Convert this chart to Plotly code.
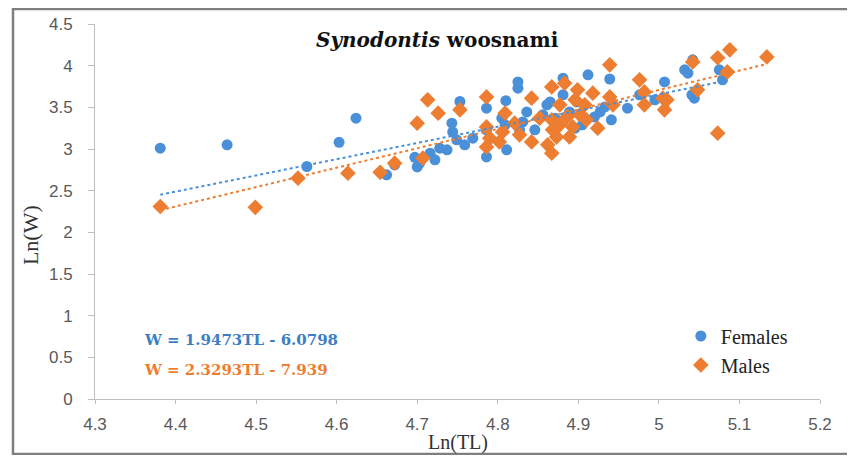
import numpy as np
import plotly.graph_objects as go

# ---- data ----
fem_x = [4.381, 4.464, 4.563, 4.603, 4.624, 4.662, 4.672, 4.697, 4.700, 4.703,
         4.716, 4.737, 4.743, 4.744, 4.749, 4.753, 4.769, 4.786, 4.786, 4.786,
         4.805, 4.809, 4.810, 4.811, 4.825, 4.825, 4.827, 4.831, 4.836, 4.856,
         4.861, 4.865, 4.881, 4.881, 4.898, 4.905, 4.912, 4.920, 4.933, 4.939,
         4.941, 4.961, 4.976, 5.007, 5.036, 5.042, 5.041, 5.044, 5.075, 5.079,
         5.032, 4.871, 4.889, 4.846, 4.927, 4.896, 4.759, 4.728, 4.722, 4.995]
fem_y = [3.01, 3.05, 2.79, 3.08, 3.37, 2.69, 2.81, 2.90, 2.785, 2.83,
         2.95, 2.99, 3.31, 3.205, 3.11, 3.57, 3.13, 3.49, 3.23, 2.905,
         3.37, 3.29, 3.58, 2.99, 3.805, 3.73, 3.23, 3.325, 3.445, 3.41,
         3.53, 3.565, 3.85, 3.65, 3.565, 3.29, 3.89, 3.385, 3.505, 3.84,
         3.35, 3.49, 3.65, 3.805, 3.91, 4.07, 3.65, 3.61, 3.95, 3.83,
         3.95, 3.37, 3.445, 3.23, 3.445, 3.25, 3.05, 3.01, 2.87, 3.59]

male_x = [4.381, 4.499, 4.552, 4.614, 4.654, 4.672, 4.700, 4.707, 4.713, 4.726,
          4.753, 4.786, 4.786, 4.790, 4.786, 4.802, 4.806, 4.821, 4.827, 4.842,
          4.842, 4.862, 4.867, 4.883, 4.899, 4.918, 4.939, 4.939, 4.976, 4.982,
          4.982, 5.005, 5.007, 4.867, 4.868, 4.873, 4.889, 4.867, 4.886, 4.902,
          4.910, 4.893, 5.042, 5.073, 5.088, 5.085, 5.134, 5.048, 5.073, 5.010,
          4.877, 4.908, 4.924, 4.852, 4.809, 4.877, 4.896, 4.943]
male_y = [2.31, 2.30, 2.65, 2.71, 2.72, 2.83, 3.31, 2.89, 3.59, 3.43,
          3.47, 3.625, 3.265, 3.13, 3.025, 3.085, 3.205, 3.31, 3.17, 3.61,
          3.085, 3.05, 3.745, 3.79, 3.71, 3.67, 4.01, 3.625, 3.83, 3.685,
          3.53, 3.61, 3.47, 3.35, 3.23, 3.145, 3.145, 2.95, 3.385, 3.41,
          3.35, 3.265, 4.045, 4.095, 4.19, 3.925, 4.105, 3.71, 3.19, 3.59,
          3.53, 3.53, 3.25, 3.37, 3.43, 3.29, 3.59, 3.53]

# trend-line coefficients shown on the chart
fem_slope, fem_icpt = 1.9473, -6.0798
male_slope, male_icpt = 2.3293, -7.939

x_ticks = [4.3, 4.4, 4.5, 4.6, 4.7, 4.8, 4.9, 5.0, 5.1, 5.2]
x_ticklabels = ["4.3", "4.4", "4.5", "4.6", "4.7", "4.8", "4.9", "5", "5.1", "5.2"]
y_ticks = [0, 0.5, 1, 1.5, 2, 2.5, 3, 3.5, 4, 4.5]
y_ticklabels = ["0", "0.5", "1", "1.5", "2", "2.5", "3", "3.5", "4", "4.5"]

BLUE = "#4A90D9"
ORANGE = "#ED7D31"

fig = go.Figure()
fig.add_trace(go.Scatter(x=fem_x, y=fem_y, mode="markers", name="Females",
                         marker=dict(symbol="circle", size=11, color=BLUE)))
fig.add_trace(go.Scatter(x=male_x, y=male_y, mode="markers", name="Males",
                         marker=dict(symbol="diamond", size=12, color=ORANGE)))

fx = np.array([min(fem_x), max(fem_x)])
mx = np.array([min(male_x), max(male_x)])
fig.add_trace(go.Scatter(x=fx, y=fem_slope * fx + fem_icpt, mode="lines",
                         line=dict(color=BLUE, width=2, dash="dot"), showlegend=False))
fig.add_trace(go.Scatter(x=mx, y=male_slope * mx + male_icpt, mode="lines",
                         line=dict(color=ORANGE, width=2, dash="dot"), showlegend=False))

axis_common = dict(showgrid=False, zeroline=False, showline=True, linecolor="#BFBFBF",
                   linewidth=1, ticks="outside", tickcolor="#BFBFBF",
                   tickfont=dict(family="Liberation Sans", size=17, color="#595959"))
fig.update_xaxes(range=[4.3, 5.2], tickvals=x_ticks, ticktext=x_ticklabels,
                 ticklen=4, ticklabelstandoff=6, **axis_common)
fig.update_yaxes(range=[0, 4.5], tickvals=y_ticks, ticktext=y_ticklabels,
                 ticklen=6, ticklabelstandoff=12, **axis_common)

annotations = [
    dict(text="<b><i>Synodontis</i> woosnami</b>", x=0.472, y=0.957, xref="paper", yref="paper",
         xanchor="center", yanchor="middle", showarrow=False,
         font=dict(family="DejaVu Serif", size=20, color="#111111")),
    dict(text="Ln(TL)", x=0.5, y=-0.115, xref="paper", yref="paper", showarrow=False,
         xanchor="center", yanchor="middle",
         font=dict(family="Liberation Serif", size=20, color="#333333")),
    dict(text="Ln(W)", x=-0.0897, y=0.437, xref="paper", yref="paper", showarrow=False,
         xanchor="center", yanchor="middle",
         textangle=-90, font=dict(family="Liberation Serif", size=22, color="#333333")),
    dict(text="<b>W = 1.9473TL - 6.0798</b>", x=0.065, y=0.157, xref="paper", yref="paper",
         xanchor="left", yanchor="middle", showarrow=False,
         font=dict(family="DejaVu Serif", size=15, color="#3A7EC6")),
    dict(text="<b>W = 2.3293TL - 7.939</b>", x=0.065, y=0.077, xref="paper", yref="paper",
         xanchor="left", yanchor="middle", showarrow=False,
         font=dict(family="DejaVu Serif", size=15, color=ORANGE)),
]

fig.update_layout(
    width=839, height=447,
    margin=dict(l=87, r=27, t=16, b=56, autoexpand=False),
    paper_bgcolor="white", plot_bgcolor="white",
    annotations=annotations,
    legend=dict(x=0.808, y=0.22, xanchor="left", yanchor="top",
                font=dict(family="Liberation Serif", size=20, color="#222222"),
                bgcolor="rgba(0,0,0,0)", itemwidth=30, tracegroupgap=0),
    shapes=[dict(type="rect", xref="paper", yref="paper", x0=-0.1131, x1=1.06,
                 y0=-0.1467, y1=1.04, line=dict(color="#7F7F7F", width=2.5))],
)

fig.write_html("out.html")
